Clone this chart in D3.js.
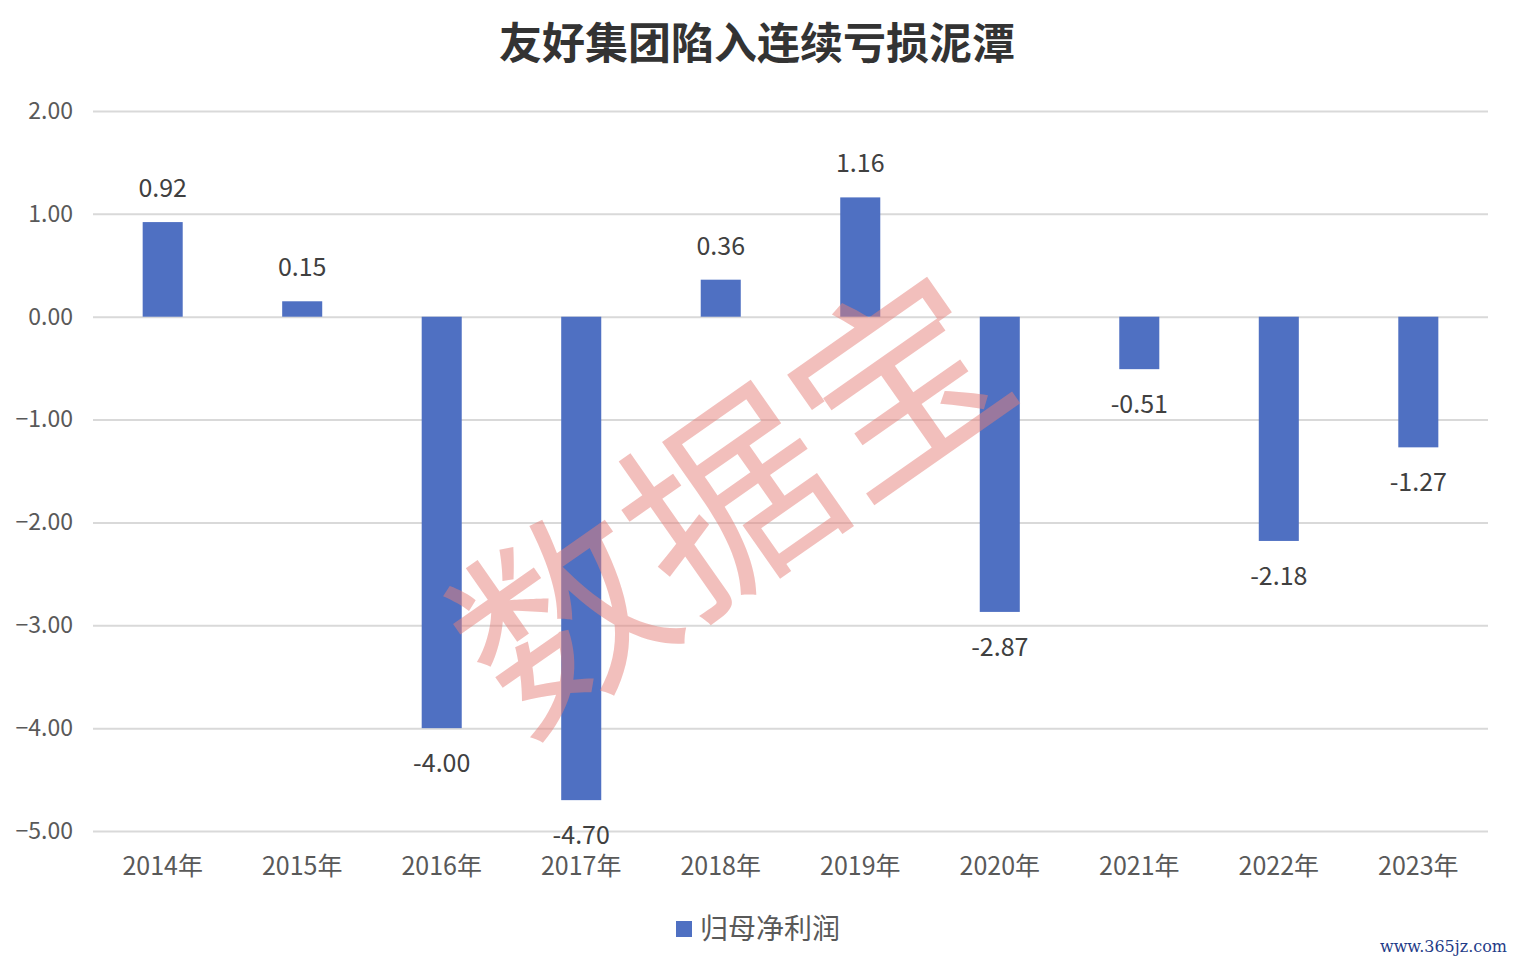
<!DOCTYPE html>
<html><head><meta charset="utf-8">
<script src="https://cdn.jsdelivr.net/npm/d3@7"></script>
<style>body{margin:0;background:#fff}svg{display:block}</style>
</head><body>
<svg id="c" width="1514" height="962"></svg>
<script>
const categories = ["2014年","2015年","2016年","2017年","2018年","2019年","2020年","2021年","2022年","2023年"];
const values = [0.92,0.15,-4.00,-4.70,0.36,1.16,-2.87,-0.51,-2.18,-1.27];
const yTicks = [2,1,0,-1,-2,-3,-4,-5];
const seriesName = "归母净利润";
const title = "友好集团陷入连续亏损泥潭";

const svg = d3.select("#c");
const W = 1514, H = 962;
const m = {l:93, r:26, t:111, b:131};
const x = d3.scaleBand().domain(categories).range([m.l, W-m.r]).paddingInner(0.713).paddingOuter(0.356);
const y = d3.scaleLinear().domain([-5,2]).range([H-m.b, m.t]);
const font = "'Noto Sans CJK SC','Noto Sans',sans-serif";

svg.append("rect").attr("width",W).attr("height",H).attr("fill","#fff");

// title
svg.append("text").attr("x",757).attr("y",59).attr("text-anchor","middle")
  .attr("font-family",font).attr("font-weight",700).attr("font-size",43).attr("fill","#333")
  .text(title);

// grid
const ya = d3.axisLeft(y).tickValues(yTicks).tickSize(-(W-m.l-m.r)).tickFormat(d3.format(".2f"));
const g = svg.append("g").attr("transform",`translate(${m.l},0)`).call(ya);
g.select(".domain").remove();
g.selectAll(".tick line").attr("stroke","#d9d9d9").attr("stroke-width",2);
g.selectAll(".tick text").attr("x",-20).attr("font-family",font).attr("font-size",23).attr("fill","#595959");

// bars
svg.append("g").selectAll("rect").data(values).join("rect")
  .attr("x",(d,i)=>x(categories[i]))
  .attr("width",x.bandwidth())
  .attr("y",d=>y(Math.max(0,d)))
  .attr("height",d=>Math.abs(y(d)-y(0)))
  .attr("fill","#4F70C2");

// x axis labels
const xa = d3.axisBottom(x).tickSize(0).tickPadding(26);
const gx = svg.append("g").attr("transform",`translate(0,${H-m.b})`).call(xa);
gx.select(".domain").remove();
gx.selectAll(".tick text").attr("font-family",font).attr("font-size",25).attr("fill","#595959");

// data labels
svg.append("g").selectAll("text").data(values).join("text")
  .attr("x",(d,i)=>x(categories[i])+x.bandwidth()/2)
  .attr("y",d=> d>=0 ? y(d)-25 : y(d)+44)
  .attr("text-anchor","middle")
  .attr("font-family",font).attr("font-size",25).attr("fill","#404040")
  .text(d=>d.toFixed(2));

// watermark
svg.append("text").attr("transform","translate(722,490) rotate(-35)")
  .attr("text-anchor","middle").attr("dominant-baseline","central")
  .attr("font-family",font).attr("font-size",205).attr("fill","#e57f7a").attr("fill-opacity",0.5)
  .text("数据宝");

// legend
const lg = svg.append("g").attr("transform","translate(676,921)");
lg.append("rect").attr("width",16).attr("height",16).attr("fill","#4F70C2");
lg.append("text").attr("x",24).attr("y",18).attr("font-family",font).attr("font-size",28).attr("fill","#595959").text(seriesName);

// site mark
svg.append("text").attr("x",1507).attr("y",952).attr("text-anchor","end")
  .attr("font-family","'DejaVu Serif',serif").attr("font-size",16).attr("fill","#1f3c88").text("www.365jz.com");
</script>
</body></html>
